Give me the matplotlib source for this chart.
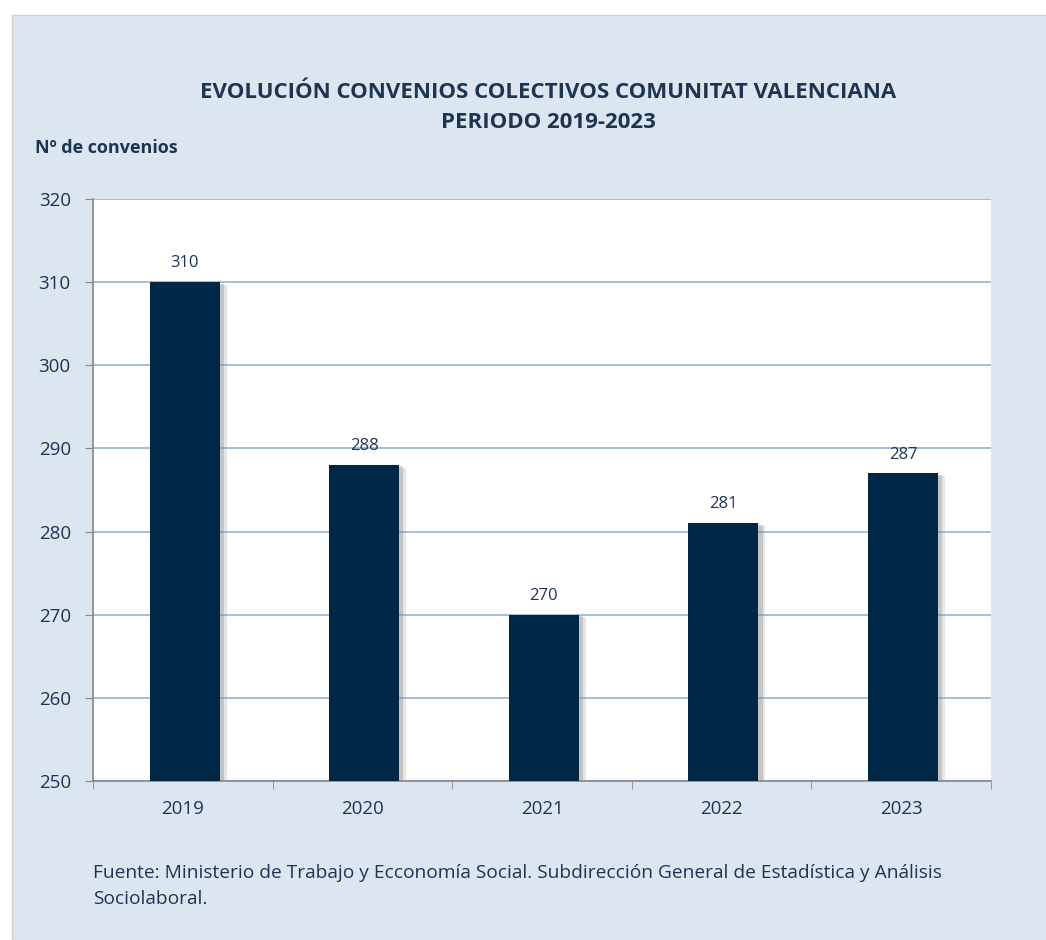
import matplotlib.pyplot as plt
import matplotlib.patheffects as pe
from matplotlib.patches import Rectangle
import numpy as np

# Datos
years = ['2019', '2020', '2021', '2022', '2023']
convenios = [310, 288, 270, 281, 287]
y_ticks = [250, 260, 270, 280, 290, 300, 310, 320]

bg = '#dce6f1'
navy = '#002846'
txt = '#1f3451'
grid = '#95b3d7'

plt.rcParams['font.family'] = ['Open Sans', 'DejaVu Sans']

fig = plt.figure(figsize=(10.46, 9.40), dpi=100)
fig.patch.set_facecolor('white')
# fondo azul del gráfico
fig.patches.append(Rectangle((12 / 1046, 0), 1, (940 - 15) / 940, transform=fig.transFigure,
                             facecolor=bg, edgecolor='#d0d0d0', lw=1, zorder=-10))

ax = fig.add_axes([93 / 1046, (940 - 781) / 940, 898 / 1046, 582 / 940])
ax.set_facecolor('white')

x = np.arange(len(years))
shadow = [pe.SimplePatchShadow(offset=(5, -2), shadow_rgbFace='#9a9a9a', alpha=0.25),
          pe.SimplePatchShadow(offset=(3, -1), shadow_rgbFace='#7a7a7a', alpha=0.3), pe.Normal()]
bars = ax.bar(x + 0.01, convenios, width=0.39, color=navy, zorder=3, path_effects=shadow)
for xi, v in zip(x, convenios):
    ax.text(xi + 0.01, v + 1.3, str(v), ha='center', va='bottom', fontsize=12, color=txt, zorder=4)

ax.set_ylim(250, 320)
ax.set_xlim(-0.5, len(years) - 0.5)
ax.set_yticks(y_ticks)
ax.set_yticklabels([str(t) for t in y_ticks], fontsize=13.5, color=txt)
ax.set_xticks(x)
ax.set_xticklabels(years, fontsize=13.5, color=txt)
ax.set_xticks(np.arange(-0.5, len(years)), minor=True)
ax.tick_params(axis='x', which='major', length=0, pad=14)
ax.tick_params(axis='x', which='minor', length=6, color='#888888', direction='out')
ax.tick_params(axis='y', length=6, color='#888888', direction='out', pad=10)
ax.yaxis.grid(True, color=grid, lw=1.2, zorder=1)
ax.set_axisbelow(True)
for s in ['top', 'right']:
    ax.spines[s].set_visible(False)
for s in ['left', 'bottom']:
    ax.spines[s].set_color('#888888')
    ax.spines[s].set_linewidth(1.2)

fig.text(548 / 1046, 1 - 92 / 940, 'EVOLUCIÓN CONVENIOS COLECTIVOS COMUNITAT VALENCIANA',
         ha='center', va='center', fontsize=16, fontweight='bold', color=txt)
fig.text(548 / 1046, 1 - 123 / 940, 'PERIODO 2019-2023',
         ha='center', va='center', fontsize=16, fontweight='bold', color=txt)
fig.text(35 / 1046, 1 - 148 / 940, 'Nº de convenios', ha='left', va='center',
         fontsize=13, fontweight='bold', color=txt)
fig.text(93 / 1046, 1 - 873 / 940,
         'Fuente: Ministerio de Trabajo y Ecconomía Social. Subdirección General de Estadística y Análisis',
         ha='left', va='center', fontsize=13.8, color=txt)
fig.text(93 / 1046, 1 - 899 / 940, 'Sociolaboral.', ha='left', va='center', fontsize=13.8, color=txt)

plt.savefig('out.png', dpi=100, facecolor=fig.get_facecolor())
plt.close()
